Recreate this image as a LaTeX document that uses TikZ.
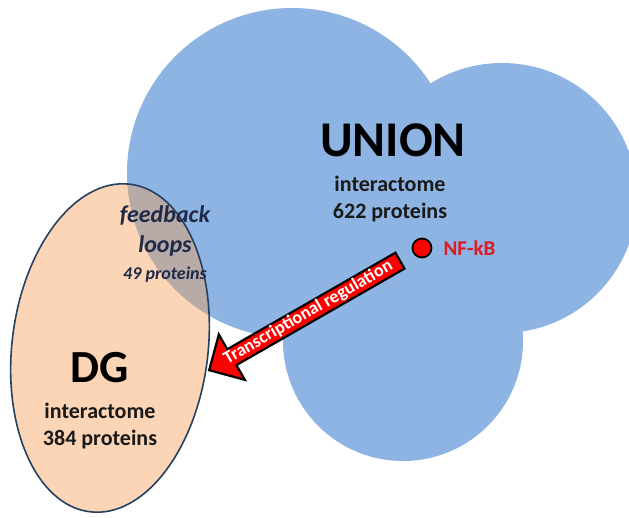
\documentclass[tikz,border=0pt]{standalone}
\usepackage{fontspec}
\setmainfont{Carlito}
\usetikzlibrary{positioning,shapes.arrows}

\definecolor{unionblue}{RGB}{142,180,227}
\definecolor{dgpeach}{RGB}{251,213,181}
\definecolor{overlapgrey}{RGB}{184,170,166}
\definecolor{dgline}{RGB}{37,64,97}
\definecolor{loopnavy}{RGB}{30,42,72}
\definecolor{textdark}{RGB}{25,25,25}
\definecolor{nfkbred}{RGB}{220,28,36}

\tikzset{
  settitle/.style={font=\fontsize{#1}{#1}\selectfont\bfseries, inner sep=0},
  infotext/.style={font=\fontsize{22}{27}\selectfont\bfseries, text=textdark, align=center, inner sep=0},
  looptext/.style={font=\fontsize{#1}{#1}\selectfont\bfseries\itshape, text=loopnavy, inner sep=0},
  regarrow/.style={single arrow, draw=black, line width=2.2pt, fill=red, text=white,
    font=\fontsize{18}{18}\selectfont\bfseries, shape border rotate=180,
    single arrow head extend=17pt, minimum height=220pt,
    text height=12pt, text depth=3.5pt, inner ysep=0.3pt, inner xsep=0pt}
}

\begin{document}
\begin{tikzpicture}[x=1pt,y=-1pt]
\fill[white] (0,0) rectangle (629,518);
\useasboundingbox (0,0) rectangle (629,518);
% union interactome
\fill[unionblue]
(292,173) circle [radius=165]
(502,198) circle [radius=135]
(403,341) circle [radius=120];
% DG interactome and the overlap
\fill[dgpeach, shift={(110,348)}, rotate=-7] (0,0) ellipse [x radius=98, y radius=165];
\begin{scope}
\clip[shift={(110,348)}, rotate=-7] (0,0) ellipse [x radius=98, y radius=165];
\fill[overlapgrey] (292,173) circle [radius=165];
\end{scope}
\draw[dgline, line width=1.6pt, shift={(110,348)}, rotate=-7] (0,0) ellipse [x radius=98, y radius=165];

\node[settitle=50] (union) at (393,140) {UNION};
\node[infotext] (unioninfo) at (390,199) {interactome\\622 proteins};
\node[settitle=46] (dg) at (100,368) {DG};
\node[infotext] (dginfo) at (100,426) {interactome\\384 proteins};
\node[looptext=24] (feedback) at (165,215) {feedback};
\node[looptext=24] (loops) at (165,246) {loops};
\node[looptext=18] (loopcount) at (165,275) {49 proteins};

\node[circle, draw=black, line width=1.8pt, fill=red, minimum size=19pt, inner sep=0] (nfkb) at (422,248) {};
\node[font=\fontsize{21}{21}\selectfont\bfseries, text=nfkbred, inner sep=0, right=11pt of nfkb] (nfkblabel) {NF-kB};

\coordinate (arrowtip) at (213,368);
\path (nfkb.center) -- (arrowtip) node[regarrow, pos=0.543, sloped] (regulation) {Transcriptional regulation};
\end{tikzpicture}
\end{document}
